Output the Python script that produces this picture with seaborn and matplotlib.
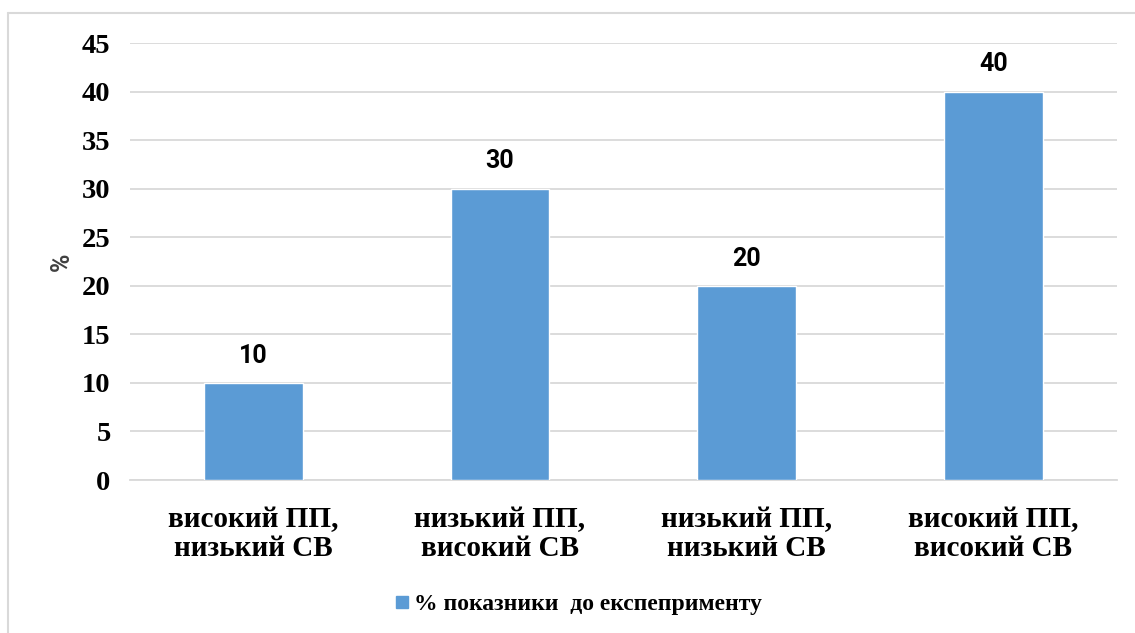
import matplotlib
matplotlib.use("Agg")
import matplotlib.pyplot as plt
import seaborn as sns
import pandas as pd
from matplotlib.lines import Line2D

categories = ["високий ПП,\nнизький СВ", "низький ПП,\nвисокий СВ",
              "низький ПП,\nнизький СВ", "високий ПП,\nвисокий СВ"]
values = [10, 30, 20, 40]
series_name = "% показники  до експеприменту"
yticks = [0, 5, 10, 15, 20, 25, 30, 35, 40, 45]

sns.set_theme(style="white")
plt.rcParams['font.family'] = ['Liberation Serif', 'DejaVu Serif']

df = pd.DataFrame({"cat": categories, "val": values})
color = "#5B9BD5"

fig = plt.figure(figsize=(11.35, 6.33), dpi=100)
ax = fig.add_axes([0.1145, 0.2417, 0.8695, 0.6903])

sns.barplot(data=df, x="cat", y="val", color=color, width=0.4,
            saturation=1, ax=ax, zorder=3)

ax.set_ylim(0, 45)
ax.set_xlim(-0.5, 3.5)
ax.set_yticks(yticks)
ax.set_yticklabels([str(t) for t in yticks], fontsize=20.5, fontweight='bold',
                   family=['Liberation Serif'], color='black')
ax.set_xticklabels(categories, fontsize=21, fontweight='bold',
                   family=['Liberation Serif'], linespacing=1.08, color='black')
ax.tick_params(axis='both', length=0)
ax.tick_params(axis='y', pad=14)
ax.tick_params(axis='x', pad=19)
ax.grid(axis='y', color='#d9d9d9', linewidth=1.3, zorder=0)
ax.set_axisbelow(True)
for s in ['top', 'right', 'left']:
    ax.spines[s].set_visible(False)
ax.spines['bottom'].set_color('#d9d9d9')
ax.spines['bottom'].set_linewidth(1.3)

ax.set_xlabel("")
ax.set_ylabel("%", fontsize=18, fontweight='bold', color='#404040',
              family=['Roboto', 'DejaVu Sans'], labelpad=6)

for c in ax.containers:
    ax.bar_label(c, labels=[str(v) for v in values], padding=11,
                 fontsize=18, fontweight='bold', family=['Roboto', 'DejaVu Sans'],
                 color='black')

handle = Line2D([0], [0], marker='s', color='none', markerfacecolor=color,
                markeredgecolor=color, markersize=9)
fig.legend([handle], [series_name], loc='center', bbox_to_anchor=(0.51, 0.045),
           frameon=False, handlelength=0.5, handletextpad=0.25,
           prop={'family': 'Liberation Serif', 'weight': 'bold', 'size': 17})
for t in fig.legends[0].get_texts():
    t.set_color('black')

# figure border (top and left visible)
fig.add_artist(Line2D([8/1135, 1.0], [1-13/633, 1-13/633], color='#d9d9d9',
                      linewidth=1.5, transform=fig.transFigure))
fig.add_artist(Line2D([8/1135, 8/1135], [0, 1-13/633], color='#d9d9d9',
                      linewidth=1.5, transform=fig.transFigure))

fig.savefig("out.png", dpi=100, facecolor='white')
